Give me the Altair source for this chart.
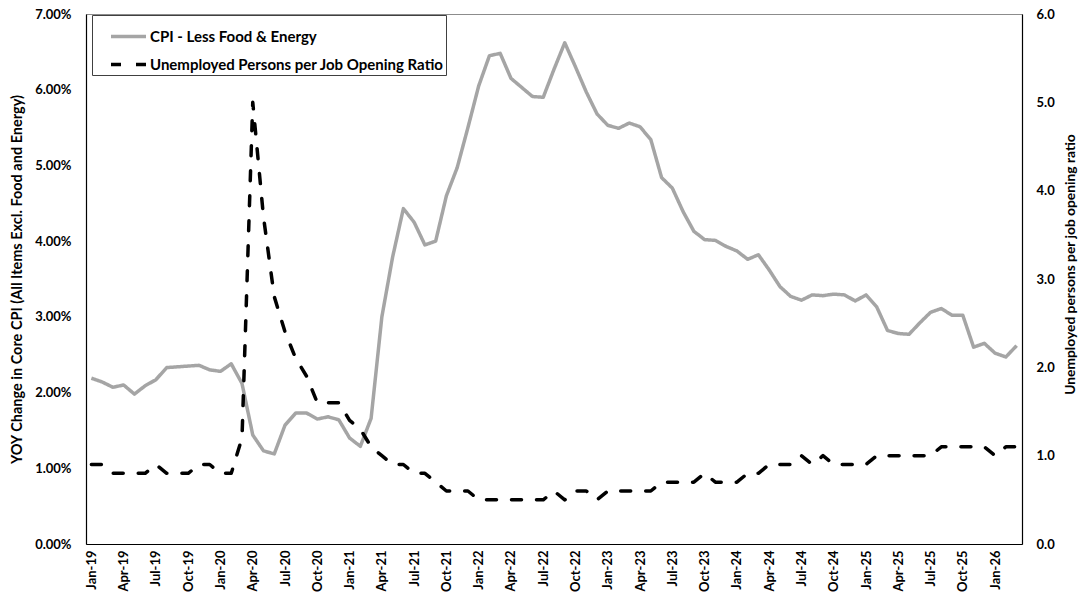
import altair as alt
import pandas as pd

# Monthly categories, Jan-2019 through Mar-2026
months = pd.date_range("2019-01-01", "2026-03-01", freq="MS").strftime("%b-%y").tolist()
tick_labels = [
    "Jan-19", "Apr-19", "Jul-19", "Oct-19", "Jan-20", "Apr-20", "Jul-20", "Oct-20",
    "Jan-21", "Apr-21", "Jul-21", "Oct-21", "Jan-22", "Apr-22", "Jul-22", "Oct-22",
    "Jan-23", "Apr-23", "Jul-23", "Oct-23", "Jan-24", "Apr-24", "Jul-24", "Oct-24",
    "Jan-25", "Apr-25", "Jul-25", "Oct-25", "Jan-26",
]

# Core CPI, year-over-year change (%)
cpi_2019 = [2.19, 2.14, 2.07, 2.10, 1.98, 2.09, 2.17, 2.33, 2.34, 2.35, 2.36, 2.30]
cpi_2020 = [2.28, 2.38, 2.12, 1.44, 1.23, 1.19, 1.57, 1.73, 1.73, 1.65, 1.68, 1.64]
cpi_2021 = [1.40, 1.29, 1.66, 3.00, 3.79, 4.43, 4.25, 3.95, 4.00, 4.60, 4.97, 5.50]
cpi_2022 = [6.05, 6.45, 6.48, 6.15, 6.03, 5.91, 5.90, 6.27, 6.62, 6.30, 5.97, 5.68]
cpi_2023 = [5.53, 5.49, 5.56, 5.51, 5.34, 4.84, 4.70, 4.39, 4.13, 4.02, 4.01, 3.93]
cpi_2024 = [3.87, 3.76, 3.82, 3.62, 3.40, 3.27, 3.22, 3.29, 3.28, 3.30, 3.29, 3.21]
cpi_2025 = [3.29, 3.13, 2.82, 2.78, 2.77, 2.92, 3.06, 3.11, 3.02, 3.02, 2.60, 2.65]
cpi_2026 = [2.52, 2.47, 2.62]

# Unemployed persons per job opening
ratio_2019 = [0.9, 0.9, 0.8, 0.8, 0.8, 0.8, 0.9, 0.8, 0.8, 0.8, 0.9, 0.9]
ratio_2020 = [0.8, 0.8, 1.2, 5.0, 3.7, 2.8, 2.4, 2.1, 1.9, 1.6, 1.6, 1.6]
ratio_2021 = [1.4, 1.3, 1.1, 1.0, 0.9, 0.9, 0.8, 0.8, 0.7, 0.6, 0.6, 0.6]
ratio_2022 = [0.5, 0.5, 0.5, 0.5, 0.5, 0.5, 0.5, 0.6, 0.5, 0.6, 0.6, 0.5]
ratio_2023 = [0.6, 0.6, 0.6, 0.6, 0.6, 0.7, 0.7, 0.7, 0.7, 0.8, 0.7, 0.7]
ratio_2024 = [0.7, 0.8, 0.8, 0.9, 0.9, 0.9, 1.0, 0.9, 1.0, 0.9, 0.9, 0.9]
ratio_2025 = [0.9, 1.0, 1.0, 1.0, 1.0, 1.0, 1.0, 1.1, 1.1, 1.1, 1.1, 1.1]
ratio_2026 = [1.0, 1.1, 1.1]

core_cpi = cpi_2019 + cpi_2020 + cpi_2021 + cpi_2022 + cpi_2023 + cpi_2024 + cpi_2025 + cpi_2026
job_ratio = (ratio_2019 + ratio_2020 + ratio_2021 + ratio_2022 + ratio_2023
             + ratio_2024 + ratio_2025 + ratio_2026)

series_names = ["CPI - Less Food & Energy", "Unemployed Persons per Job Opening Ratio"]

cpi_df = pd.DataFrame({"month": months, "value": core_cpi, "series": series_names[0]})
ratio_df = pd.DataFrame({"month": months, "value": job_ratio, "series": series_names[1]})

FONT = "Lato"

x_enc = alt.X(
    "month:O",
    sort=months,
    scale=alt.Scale(type="point", padding=0.5),
    axis=alt.Axis(
        values=tick_labels,
        title=None,
        labelAngle=270,
        labelAlign="right",
        labelBaseline="middle",
        labelPadding=6,
        labelFontSize=13,
        ticks=False,
    ),
)

color_enc = alt.Color(
    "series:N",
    scale=alt.Scale(domain=series_names, range=["#a5a5a5", "#000000"]),
    legend=alt.Legend(
        title=None,
        orient="none",
        legendX=6,
        legendY=1,
        direction="vertical",
        symbolType="stroke",
        symbolSize=1225,
        symbolStrokeWidth=3.5,
        symbolOffset=15,
        labelFont=FONT,
        labelFontSize=15,
        labelFontWeight="bold",
        labelColor="#000000",
        labelOffset=2,
        labelLimit=0,
        # trailing en spaces leave room between the text and the frame
        labelExpr="datum.label + '\u2002\u2002\u2002'",
        rowPadding=-13,
        padding=2,
        fillColor="white",
        strokeColor="#404040",
    ),
)
dash_enc = alt.StrokeDash(
    "series:N",
    scale=alt.Scale(domain=series_names, range=[[1, 0], [10, 15]]),
    legend=None,
)

cpi_line = (
    alt.Chart(cpi_df)
    .mark_line(strokeWidth=3.5, strokeJoin="round")
    .encode(
        x=x_enc,
        y=alt.Y(
            "value:Q",
            scale=alt.Scale(domain=[0, 7], nice=False),
            axis=alt.Axis(
                orient="left",
                values=[0, 1, 2, 3, 4, 5, 6, 7],
                labelExpr="format(datum.value, '.2f') + '%'",
                labelPadding=15,
                labelFontSize=13,
                ticks=False,
                title="YOY Change in Core CPI (All Items Excl. Food and Energy)",
                titleAngle=270,
                titleX=-69,
                titleY=265,
                titleAlign="center",
                titleBaseline="middle",
                titleFontSize=14.5,
            ),
        ),
        color=color_enc,
        strokeDash=dash_enc,
    )
)

ratio_line = (
    alt.Chart(ratio_df)
    .mark_line(strokeWidth=3.5, strokeCap="round", strokeJoin="round")
    .encode(
        x=x_enc,
        y=alt.Y(
            "value:Q",
            scale=alt.Scale(domain=[0, 6], nice=False),
            axis=alt.Axis(
                orient="right",
                values=[0, 1, 2, 3, 4, 5, 6],
                format=".1f",
                labelPadding=14,
                labelFontSize=13,
                ticks=False,
                title="Unemployed persons per job opening ratio",
                titleAngle=270,
                titleX=48,
                titleY=250,
                titleAlign="center",
                titleBaseline="middle",
                titleFontSize=13.8,
            ),
        ),
        color=color_enc,
        strokeDash=dash_enc,
    )
)

chart = (
    alt.layer(cpi_line, ratio_line)
    .resolve_scale(y="independent")
    .properties(
        width=936,
        height=530,
        padding={"left": 86, "top": 14, "right": 64, "bottom": 55},
        autosize=alt.AutoSizeParams(type="none"),
        background="white",
    )
    .configure_view(stroke="#8c8c8c", strokeWidth=1)
    .configure_axis(
        labelFont=FONT,
        labelFontWeight="bold",
        labelColor="#000000",
        titleFont=FONT,
        titleFontWeight="bold",
        titleColor="#000000",
        domainColor="#000000",
        domainWidth=1.2,
        grid=False,
    )
)

chart.save("out.html", embed_options={"renderer": "svg", "actions": False})
